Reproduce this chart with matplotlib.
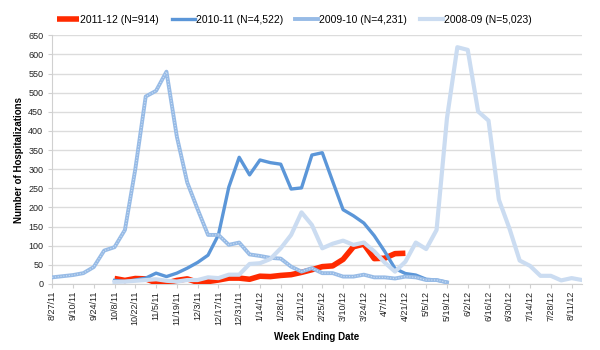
import numpy as np
import matplotlib
matplotlib.use("Agg")
import matplotlib.pyplot as plt

plt.rcParams['font.family'] = ['Liberation Sans', 'DejaVu Sans']

# week ending dates, one per week starting 8/27/11 (labels every 2 weeks)
tick_labels = ['8/27/11', '9/10/11', '9/24/11', '10/8/11', '10/22/11', '11/5/11',
               '11/19/11', '12/3/11', '12/17/11', '12/31/11', '1/14/12', '1/28/12',
               '2/11/12', '2/25/12', '3/10/12', '3/24/12', '4/7/12', '4/21/12',
               '5/5/12', '5/19/12', '6/2/12', '6/16/12', '6/30/12', '7/14/12',
               '7/28/12', '8/11/12']
n_weeks = 52

# 2011-12 season, weeks 6..34
s1112_start = 6
s1112 = [14, 9, 14, 13, 3, 2, 9, 13, 4, 6, 10, 15, 15, 12, 20, 19, 22, 24,
         30, 37, 45, 47, 64, 97, 104, 66, 67, 79, 80]

# 2010-11 season, weeks 6..38
s1011_start = 6
s1011 = [9, 6, 10, 15, 28, 19, 28, 41, 56, 75, 128, 253, 331, 285, 324, 317,
         313, 248, 251, 337, 343, 268, 194, 178, 159, 126, 85, 40, 27, 23, 12, 10, 4]

# 2009-10 season, weeks 0..38
s0910_start = 0
s0910 = [17, 20, 23, 28, 44, 87, 96, 141, 300, 490, 505, 555, 385, 265, 195,
         128, 128, 102, 108, 77, 73, 68, 66, 45, 32, 41, 28, 28, 19, 19, 24,
         17, 17, 14, 19, 17, 10, 10, 4]

# 2008-09 season, weeks 6..51
s0809_start = 6
s0809 = [5, 6, 8, 10, 12, 8, 6, 10, 10, 17, 15, 24, 24, 52, 54, 65, 93, 128,
         187, 154, 93, 105, 113, 102, 108, 85, 56, 32, 58, 108, 91, 141, 433,
         619, 612, 451, 427, 220, 146, 61, 47, 21, 21, 9, 15, 10]

labels = ['2011-12 (N=914)', '2010-11 (N=4,522)', '2009-10 (N=4,231)', '2008-09 (N=5,023)']

fig = plt.figure(figsize=(6, 3.5), dpi=100)
ax = fig.add_axes([0.087, 0.189, 0.883, 0.71])

def xs(start, vals):
    return np.arange(start, start + len(vals))

h1, = ax.plot(xs(s1112_start, s1112), s1112, color='#ff2a00', lw=4, zorder=3,
              solid_capstyle='butt', label=labels[0])
h2, = ax.plot(xs(s1011_start, s1011), s1011, color='#5b96d8', lw=2.4, zorder=4,
              label=labels[1])
h3, = ax.plot(xs(s0910_start, s0910), s0910, color='#97bbe6', lw=2.8, zorder=5,
              label=labels[2])
ax.plot(xs(s0910_start, s0910), s0910, color='#cddff4', lw=0.8, ls=(0, (1, 1.5)),
        zorder=5)
h4, = ax.plot(xs(s0809_start, s0809), s0809, color='#cbdcf1', lw=3, zorder=6,
              label=labels[3])

ax.set_xlim(0, n_weeks - 1)
ax.set_ylim(0, 650)
ax.set_yticks(np.arange(0, 651, 50))
ax.set_xticks(np.arange(0, n_weeks, 2))
ax.set_xticklabels(tick_labels, rotation=90, fontsize=6.5, color='#222222')
ax.tick_params(axis='y', labelsize=6.5, labelcolor='#222222', length=3, color='#d0d0d0')
ax.tick_params(axis='x', length=3, color='#d0d0d0', pad=2)
ax.grid(axis='y', color='#dcdcdc', lw=1)
ax.set_axisbelow(True)
for side in ['top', 'right']:
    ax.spines[side].set_visible(False)
ax.spines['left'].set_color('#d0d0d0')
ax.spines['bottom'].set_color('#d0d0d0')

ax.set_ylabel('Number of Hospitalizations', fontsize=7, fontweight='bold', labelpad=3)
ax.set_xlabel('Week Ending Date', fontsize=7, fontweight='bold', labelpad=5)

fig.legend(handles=[h1, h2, h3, h4], loc='upper center', bbox_to_anchor=(0.49, 0.985),
           ncol=4, frameon=False, fontsize=7.5, handlelength=2.2, handletextpad=0.1,
           columnspacing=1.2)

fig.savefig('out.png', dpi=100)
